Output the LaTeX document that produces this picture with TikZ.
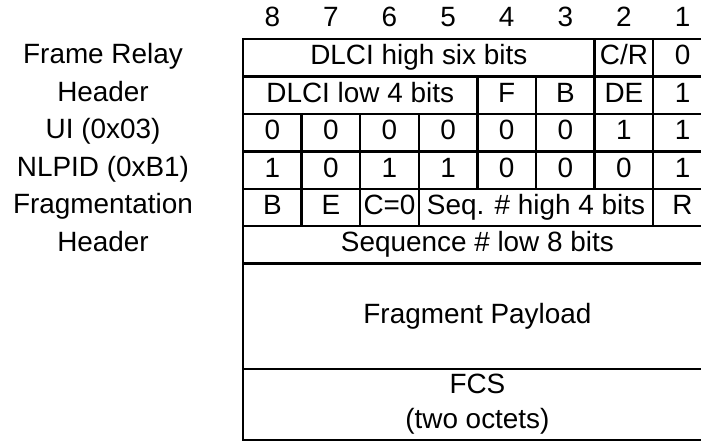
\documentclass[tikz,border=0pt]{standalone}
\usepackage{fontspec}
\setmainfont{Liberation Sans}
\begin{document}
\begin{tikzpicture}[x=1bp,y=-1bp,
  gridline/.style={line width=2.5bp, line cap=rect},
  txt/.style={anchor=base, inner sep=0pt, font=\fontsize{28}{32}\selectfont},
  lbl/.style={txt}]
\useasboundingbox (0,0) rectangle (701,442);
% column x positions
\def\L{243}\def\W{58.6}
% outer frame
\draw[gridline] (\L,39) rectangle (\L+8*\W,440);
% horizontal lines
\foreach \yy in {76.5,114,151.5,189,226,263.5,369}
  \draw[gridline] (\L,\yy) -- (\L+8*\W,\yy);
% vertical lines row 1
\foreach \i in {6,7} \draw[gridline] (\L+\i*\W,39) -- (\L+\i*\W,76.5);
% row 2
\foreach \i in {4,5,6,7} \draw[gridline] (\L+\i*\W,76.5) -- (\L+\i*\W,114);
% rows 3-4
\foreach \i in {1,...,7} \draw[gridline] (\L+\i*\W,114) -- (\L+\i*\W,189);
% row 5
\foreach \i in {1,2,3,7} \draw[gridline] (\L+\i*\W,189) -- (\L+\i*\W,226);
% header digits
\foreach \i/\d in {0/8,1/7,2/6,3/5,4/4,5/3,6/2,7/1}
  \node[txt] (h\d) at (\L+\i*\W+0.5*\W,26.5) {\d};
% row 1
\node[txt] (dhi) at (\L+3*\W,65) {DLCI high six bits};
\node[txt] (cr) at (\L+6.5*\W,65) {C/R};
\node[txt] (ea0) at (\L+7.5*\W,65) {0};
% row 2
\node[txt] (dlo) at (\L+2*\W,102.5) {DLCI low 4 bits};
\node[txt] (fb) at (\L+4.5*\W,102.5) {F};
\node[txt] (bb) at (\L+5.5*\W,102.5) {B};
\node[txt] (de) at (\L+6.5*\W,102.5) {DE};
\node[txt] (ea1) at (\L+7.5*\W,102.5) {1};
% row 3 UI
\foreach \i/\d in {0/0,1/0,2/0,3/0,4/0,5/0,6/1,7/1}
  \node[txt] (ui\i) at (\L+\i*\W+0.5*\W,140) {\d};
% row 4 NLPID
\foreach \i/\d in {0/1,1/0,2/1,3/1,4/0,5/0,6/0,7/1}
  \node[txt] (nl\i) at (\L+\i*\W+0.5*\W,177.5) {\d};
% row 5
\node[txt] (fbeg) at (\L+0.5*\W,214.5) {B};
\node[txt] (fend) at (\L+1.5*\W,214.5) {E};
\node[txt] (fc) at (\L+2.5*\W,214.5) {C=0};
\node[txt] (seqhi) at (\L+5*\W,214.5) {Seq. \# high 4 bits};
\node[txt] (fr) at (\L+7.5*\W,214.5) {R};
% row 6
\node[txt] (seqlo) at (\L+4*\W,252) {Sequence \# low 8 bits};
% payload
\node[txt] (pay) at (\L+4*\W,323.5) {Fragment Payload};
% FCS
\node[txt] (fcs) at (\L+4*\W,393.5) {FCS};
\node[txt] (fcs2) at (\L+4*\W,428) {(two octets)};
% left labels
\node[lbl] (l1) at (103,64) {Frame Relay};
\node[lbl] (l2) at (103,101.5) {Header};
\node[lbl] (l3) at (103,139) {UI (0x03)};
\node[lbl] (l4) at (103,176.5) {NLPID (0xB1)};
\node[lbl] (l5) at (103,213.5) {Fragmentation};
\node[lbl] (l6) at (103,251.5) {Header};
\end{tikzpicture}
\end{document}
